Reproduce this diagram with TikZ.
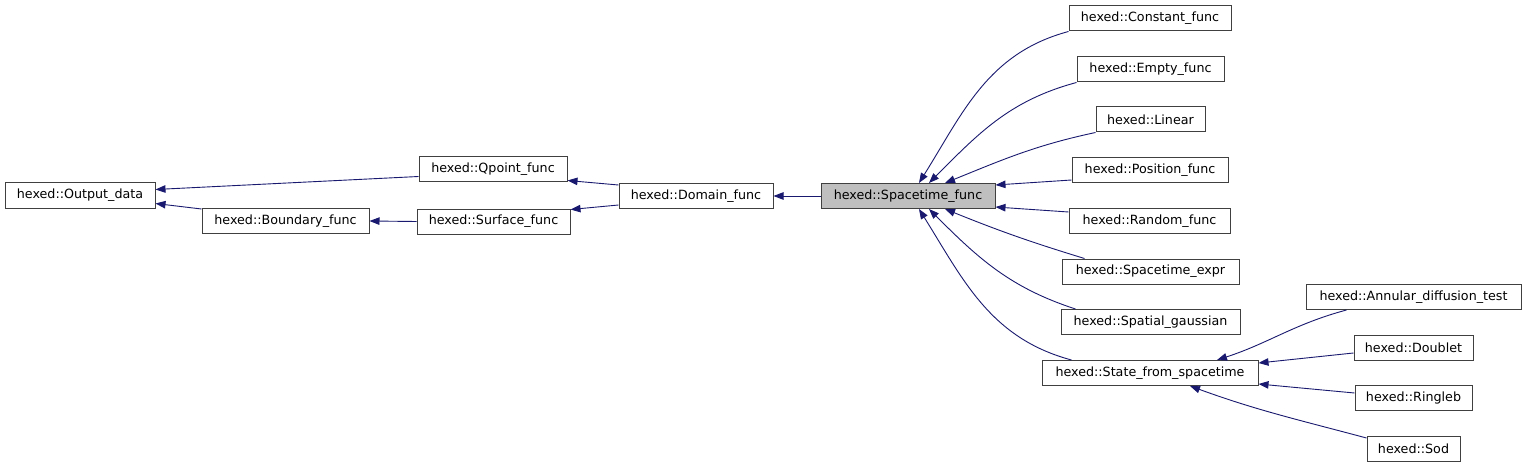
\documentclass[tikz,border=0pt]{standalone}
\usepackage{fontspec}
\setmainfont{DejaVu Sans}
\usetikzlibrary{arrows.meta,calc}
\definecolor{edgecol}{HTML}{191970}
\definecolor{boxline}{HTML}{404040}
\definecolor{hlfill}{HTML}{BFBFBF}
\begin{document}
\begin{tikzpicture}[x=1pt,y=1pt,
  cls/.style={draw=boxline,line width=1pt,fill=white,minimum height=25pt,inner sep=0pt,
    font=\fontsize{12.7}{14}\selectfont,text=black},
  edge/.style={draw=edgecol,line width=0.9pt,-{Triangle[length=10pt,width=7.5pt]}}]
\useasboundingbox[fill=white] (0,0) rectangle (1527,-468);
% nodes
\node[cls,minimum width=150pt] (out) at (80,-195.5) {hexed::Output\_data};
\node[cls,minimum width=167pt] (bnd) at (285.5,-221) {hexed::Boundary\_func};
\node[cls,minimum width=148pt] (qpt) at (493,-169.5) {hexed::Qpoint\_func};
\node[cls,minimum width=153pt] (srf) at (493.5,-221.5) {hexed::Surface\_func};
\node[cls,minimum width=154pt] (dom) at (696,-196) {hexed::Domain\_func};
\node[cls,minimum width=174pt,fill=hlfill] (st) at (908,-196) {hexed::Spacetime\_func};
\node[cls,minimum width=162pt] (con) at (1150,-18.5) {hexed::Constant\_func};
\node[cls,minimum width=147pt] (emp) at (1150.5,-69.5) {hexed::Empty\_func};
\node[cls,minimum width=109pt] (lin) at (1150.5,-119.5) {hexed::Linear};
\node[cls,minimum width=156pt] (pos) at (1150,-170) {hexed::Position\_func};
\node[cls,minimum width=161pt] (rnd) at (1149.5,-221) {hexed::Random\_func};
\node[cls,minimum width=177pt] (sex) at (1150.5,-271.5) {hexed::Spacetime\_expr};
\node[cls,minimum width=179pt] (sga) at (1150.5,-322) {hexed::Spatial\_gaussian};
\node[cls,minimum width=216pt] (sfs) at (1150,-373) {hexed::State\_from\_spacetime};
\node[cls,minimum width=215pt] (ann) at (1413.5,-297) {hexed::Annular\_diffusion\_test};
\node[cls,minimum width=119pt] (dbl) at (1413.5,-347.5) {hexed::Doublet};
\node[cls,minimum width=117pt] (rgl) at (1413.5,-398) {hexed::Ringleb};
\node[cls,minimum width=93pt] (sod) at (1413.5,-449) {hexed::Sod};
% left edges
\draw[edge] ($(qpt.south west)+(0,6)$) -- ($(out.north east)+(0,-7)$);
\draw[edge] ($(bnd.north west)+(0,-1)$) -- ($(out.south east)+(0,5)$);
\draw[edge] (srf.west) -- (bnd.east);
\draw[edge] ($(dom.north west)+(0,-2)$) -- ($(qpt.south east)+(0,2)$);
\draw[edge] ($(dom.south west)+(0,4)$) -- ($(srf.north east)+(0,-1)$);
\draw[edge] (st.west) -- (dom.east);
% spacetime derived
\draw[edge] (con.south west) to[out=195,in=58] ($(st.north)+(11,0)$);
\draw[edge] (emp.south west) to[out=195,in=45] ($(st.north)+(21,0)$);
\draw[edge] (lin.south west) to[out=192,in=22] ($(st.north)+(37,0)$);
\draw[edge] ($(pos.south west)+(0,3)$) -- ($(st.north east)+(0,-2)$);
\draw[edge] ($(rnd.north west)+(0,-4)$) -- ($(st.south east)+(0,2)$);
\draw[edge] ($(sex.north west)+(23,0)$) to[out=163,in=-22] ($(st.south)+(37,0)$);
\draw[edge] ($(sga.north west)+(15,0)$) to[out=162,in=-45] ($(st.south)+(21,0)$);
\draw[edge] ($(sfs.north west)+(30,0)$) to[out=165,in=-58] ($(st.south)+(11,0)$);
% state_from_spacetime derived
\draw[edge] ($(ann.south west)+(41,0)$) to[out=195,in=18] ($(sfs.north)+(67,0)$);
\draw[edge] ($(dbl.west)+(0,-5.5)$) -- ($(sfs.north east)+(0,-3)$);
\draw[edge] ($(rgl.west)+(0,5)$) -- ($(sfs.south east)+(0,2)$);
\draw[edge] ($(sod.north west)+(0,-2)$) to[out=165,in=-20] ($(sfs.south)+(40,0)$);
\end{tikzpicture}
\end{document}
